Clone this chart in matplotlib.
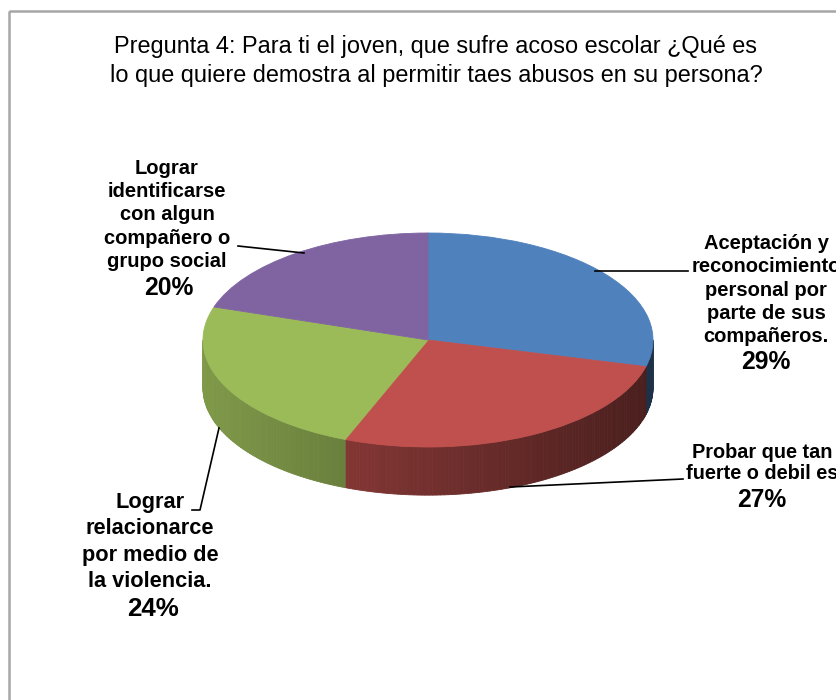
import numpy as np
import matplotlib.pyplot as plt
from matplotlib.patches import Polygon, Rectangle
from matplotlib.colors import to_rgb

plt.rcParams['font.family'] = ['Liberation Sans', 'DejaVu Sans']

# ── Data ──────────────────────────────────────────────────────────────────────
titulo = ("Pregunta 4: Para ti el joven, que sufre acoso escolar ¿Qué es\n"
          "lo que quiere demostra al permitir taes abusos en su persona?")
categorias = [
    "Aceptación y\nreconocimiento\npersonal por\nparte de sus\ncompañeros.",
    "Probar que tan\nfuerte o debil es",
    "Lograr\nrelacionarce\npor medio de\nla violencia.",
    "Lograr\nidentificarse\ncon algun\ncompañero o\ngrupo social",
]
porcentajes = [29, 27, 24, 20]
colores = ["#4F81BD", "#C0504D", "#9BBB59", "#8064A2"]

# ── Layout (pixels) ───────────────────────────────────────────────────────────
W, H = 836, 700
cx, cy = 428, 340      # centre of the top face
a, b = 225, 107        # ellipse half-axes
depth = 0.45           # side wall height, in units of b

fig = plt.figure(figsize=(W / 100, H / 100), dpi=100)
fig.patch.set_facecolor('white')

ax = fig.add_axes([0, 0, 1, 1])
wedges, _ = ax.pie(porcentajes, colors=colores, startangle=90, counterclock=False,
                   wedgeprops=dict(linewidth=0.6, zorder=2))
for w, col in zip(wedges, colores):
    w.set_edgecolor(col)
ax.set_aspect('auto')
ax.set_xlim(-cx / a, (W - cx) / a)
ax.set_ylim(-(H - cy) / b, cy / b)
ax.axis('off')

# side walls of the 3D pie, shaded darker to the right
for w, col in zip(wedges, colores):
    t1, t2 = w.theta1, w.theta2
    for lo, hi in [(-180, 0), (180, 360), (-540, -360)]:
        s, e = max(t1, lo), min(t2, hi)
        if e <= s:
            continue
        edges = np.linspace(s, e, int(np.ceil(e - s)) + 1)
        for u0, u1 in zip(edges[:-1], edges[1:]):
            tt = np.radians(np.linspace(u0, u1, 4))
            xs, ys = np.cos(tt), np.sin(tt)
            poly = np.column_stack([np.r_[xs, xs[::-1]], np.r_[ys, ys[::-1] - depth]])
            f = 0.82 - 0.22 * (np.cos(np.radians((u0 + u1) / 2)) + 1)
            c = np.clip(np.array(to_rgb(col)) * f, 0, 1)
            ax.add_patch(Polygon(poly, closed=True, fc=c, ec=c, lw=0.6, zorder=1))

# ── Overlay in pixel coordinates: frame, title, labels, leader lines ─────────
ov = fig.add_axes([0, 0, 1, 1], facecolor='none')
ov.set_xlim(0, W)
ov.set_ylim(H, 0)
ov.axis('off')

ov.add_patch(Rectangle((8.5, 10.5), 1000, 1000, fill=False, ec='#A6A6A6', lw=1.8))

ov.text(436, 61, titulo, ha='center', va='center', fontsize=16.9,
        linespacing=1.3, color='black')

label_pos = [(766, 290), (762, 463), (150, 542), (167, 215)]
pct_pos = [(766, 362), (762, 500), (153, 609), (169, 288)]
label_fs = [14.5, 14.3, 15.7, 14.5]
pct_fs = [17.7, 17.7, 18.7, 17.7]
spacing = [1.27, 1.17, 1.32, 1.27]
for nombre, pct, (lx, ly), (px, py), fs, pfs, ls in zip(
        categorias, porcentajes, label_pos, pct_pos, label_fs, pct_fs, spacing):
    ov.text(lx, ly, nombre, ha='center', va='center', fontsize=fs,
            fontweight='bold', linespacing=ls, color='black')
    ov.text(px, py, f"{pct}%", ha='center', va='center', fontsize=pfs,
            fontweight='bold', color='black')

leaders = [
    ([595, 688], [271, 271]),
    ([510, 683], [487, 479]),
    ([219, 200, 192], [428, 510, 510]),
    ([304, 238], [253, 246]),
]
for xs, ys in leaders:
    ov.plot(xs, ys, color='black', lw=1.2)

fig.savefig("out.png", dpi=100)
